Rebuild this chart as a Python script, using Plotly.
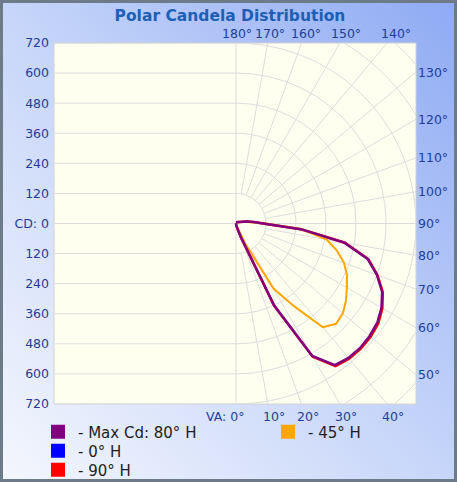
import base64
import numpy as np
import plotly.graph_objects as go

# Figure and plot-area geometry (pixels)
W, H = 457, 482
ML, MR, MT, MB = 54, 41, 43, 78
PW, PH = W - ML - MR, H - MT - MB

# Vertical angles (deg) of the candela table: 0 = nadir, 180 = zenith
vertical_angles = list(range(0, 185, 5))

# Candela values per horizontal plane
cd_max_80h = [0, 5, 10, 20, 60, 360, 610, 690, 700, 702, 698, 690, 672, 645, 600, 545, 440, 260,
              120, 70, 45, 30, 20, 15, 12, 10, 10, 10, 8, 8, 8, 6, 6, 5, 5, 5, 5]
cd_0h = [0, 5, 10, 20, 60, 360, 610, 690, 700, 702, 698, 690, 672, 645, 600, 545, 440, 260,
         120, 70, 45, 30, 20, 15, 12, 10, 10, 10, 8, 8, 8, 6, 6, 5, 5, 5, 5]
cd_90h = [0, 5, 10, 20, 61, 362, 614, 694, 704, 706, 703, 695, 676, 648, 602, 548, 442, 261,
          120, 70, 45, 30, 20, 15, 12, 10, 10, 10, 8, 8, 8, 6, 6, 5, 5, 5, 5]
cd_45h = [0, 5, 8, 12, 20, 90, 300, 400, 540, 566, 558, 537, 512, 490, 460, 418, 368, 265,
          118, 65, 40, 28, 20, 15, 12, 10, 10, 10, 8, 8, 8, 6, 6, 5, 5, 5, 5]

series_names = ["- Max Cd: 80° H", "- 0° H", "- 90° H", "- 45° H"]

# Axis ticks and angle labels
cd_ticks = list(range(-720, 721, 120))
cd_tick_text = ["CD: 0" if v == 0 else str(abs(v)) for v in cd_ticks]
top_angles = [180, 170, 160, 150, 140]
right_angles = [130, 120, 110, 100, 90, 80, 70, 60, 50]
bottom_angles = [0, 10, 20, 30, 40]
grid_radii = list(range(120, 1081, 120))
spoke_angles = list(range(10, 180, 10))

X_MIN, X_MAX = -728, 720
Y_MIN, Y_MAX = -720, 720
TOP_LABEL_R = 756          # spokes are extended to this height to place the top labels

LABEL_BLUE = "#1f3d99"
GRID = "#dcdcdc"


def to_xy(va_deg, cd):
    a = np.radians(np.asarray(va_deg, dtype=float))
    r = np.asarray(cd, dtype=float)
    return r * np.sin(a), -r * np.cos(a)


fig = go.Figure()

# ---- grid ----
gx, gy = [], []
for v in cd_ticks:                      # candela lines on the left half
    gx += [X_MIN, 0, None]
    gy += [v, v, None]
gx += [0, 0, None]                      # 0° / 180° axis
gy += [Y_MIN, Y_MAX, None]
phi = np.linspace(0, 180, 361)
for r in grid_radii:                    # iso-candela arcs
    x, y = to_xy(phi, np.full_like(phi, r))
    gx += list(x) + [None]
    gy += list(y) + [None]
for va in spoke_angles:                 # vertical-angle spokes
    x, y = to_xy([va, va], [grid_radii[0], 1200])
    gx += list(x) + [None]
    gy += list(y) + [None]
fig.add_trace(go.Scatter(x=gx, y=gy, mode="lines", line=dict(color=GRID, width=1),
                         hoverinfo="skip", showlegend=False))

# ---- candela curves ----
curves = [
    (cd_0h, "#0000ff", 1.2, series_names[1]),
    (cd_90h, "#ff0000", 2.5, series_names[2]),
    (cd_45h, "#ffa500", 2.0, series_names[3]),
    (cd_max_80h, "#800080", 2.5, series_names[0]),
]
for vals, col, w, name in curves:
    x, y = to_xy(vertical_angles, vals)
    fig.add_trace(go.Scatter(x=x, y=y, mode="lines", line=dict(color=col, width=w),
                             name=name, showlegend=False))

# ---- legend swatches ----
swatches = [
    (series_names[0], "#800080", "legend"),
    (series_names[1], "#0000ff", "legend2"),
    (series_names[2], "#ff0000", "legend3"),
    (series_names[3], "#ffa500", "legend4"),
]
for name, col, lg in swatches:
    fig.add_trace(go.Scatter(x=[None], y=[None], mode="markers", name=name,
                             marker=dict(symbol="square", size=14, color=col),
                             legend=lg, showlegend=True))


def legend_cfg(px_x, px_y):
    return dict(x=(px_x - ML) / PW, y=1 - (px_y - MT) / PH, xanchor="left", yanchor="middle",
                bgcolor="rgba(0,0,0,0)", borderwidth=0, itemsizing="trace",
                font=dict(family="DejaVu Sans", size=15, color="#1e1e1e"))


# ---- angle labels around the frame ----
ann = []
lab_font = dict(family="DejaVu Sans", size=12.5, color=LABEL_BLUE)
for a in top_angles:
    ann.append(dict(x=TOP_LABEL_R * np.tan(np.radians(180 - a)), y=1, xref="x", yref="paper",
                    text=f"{a}°", showarrow=False, xanchor="center", yanchor="bottom",
                    xshift=1, yshift=0, font=lab_font))
for a in right_angles:
    ann.append(dict(x=1, y=X_MAX * np.tan(np.radians(a - 90)), xref="paper", yref="y",
                    text=f"{a}°", showarrow=False, xanchor="left", yanchor="middle",
                    xshift=0, font=lab_font))
for a in bottom_angles:
    bx = -Y_MIN * np.tan(np.radians(a))
    if a == 0:
        ann.append(dict(x=bx, y=0, xref="x", yref="paper", text=f"VA: {a}°", showarrow=False,
                        xanchor="right", yanchor="top", xshift=10, yshift=-3, font=lab_font))
    else:
        ann.append(dict(x=bx, y=0, xref="x", yref="paper", text=f"{a}°", showarrow=False,
                        xanchor="center", yanchor="top", xshift=6, yshift=-3, font=lab_font))

# ---- background gradient for the whole card ----
svg = (f'<svg xmlns="http://www.w3.org/2000/svg" width="{W}" height="{H}">'
       '<defs><linearGradient id="g" x1="0" y1="1" x2="1" y2="0">'
       '<stop offset="0" stop-color="#f5f7fd"/><stop offset="0.5" stop-color="#c6d5f9"/>'
       '<stop offset="1" stop-color="#8eaaf3"/></linearGradient></defs>'
       f'<rect width="{W}" height="{H}" fill="url(#g)"/></svg>')
bg_src = "data:image/svg+xml;base64," + base64.b64encode(svg.encode()).decode()

shapes = [
    # plot area
    dict(type="rect", xref="paper", yref="paper", x0=0, x1=1, y0=0, y1=1, layer="below",
         fillcolor="#fffff0", line=dict(color="#d2d2d2", width=1)),
    # outer frame
    dict(type="rect", xref="paper", yref="paper",
         x0=(-ML + 1.5) / PW, x1=(W - ML - 1.5) / PW,
         y0=(-MB + 1.5) / PH, y1=1 + (MT - 1.5) / PH,
         line=dict(color="#6d7b89", width=3), fillcolor="rgba(0,0,0,0)", layer="above"),
]

fig.update_layout(
    width=W, height=H, margin=dict(l=ML, r=MR, t=MT, b=MB, pad=0, autoexpand=False),
    paper_bgcolor="#c6d5f9", plot_bgcolor="rgba(0,0,0,0)",
    title=dict(text="<b>Polar Candela Distribution</b>", x=230 / W, y=1 - 16 / H,
               xref="container", yref="container", xanchor="center", yanchor="middle",
               font=dict(family="DejaVu Sans", size=15.5, color="#1d5fb5")),
    xaxis=dict(range=[X_MIN, X_MAX], showgrid=False, zeroline=False, showticklabels=False,
               ticks="", showline=False, fixedrange=True),
    yaxis=dict(range=[Y_MIN, Y_MAX], showgrid=False, zeroline=False, tickvals=cd_ticks,
               ticktext=cd_tick_text, ticks="", showline=False, ticklabelstandoff=4,
               tickfont=dict(family="DejaVu Sans", size=12.5, color=LABEL_BLUE), fixedrange=True),
    images=[dict(source=bg_src, xref="paper", yref="paper", x=-ML / PW, y=1 + MT / PH,
                 sizex=W / PW, sizey=H / PH, xanchor="left", yanchor="top",
                 sizing="stretch", layer="below")],
    shapes=shapes,
    annotations=ann,
    legend=legend_cfg(38, 432),
    legend2=legend_cfg(38, 451),
    legend3=legend_cfg(38, 470),
    legend4=legend_cfg(268, 432),
    showlegend=True,
)

fig.write_html("out.html")
